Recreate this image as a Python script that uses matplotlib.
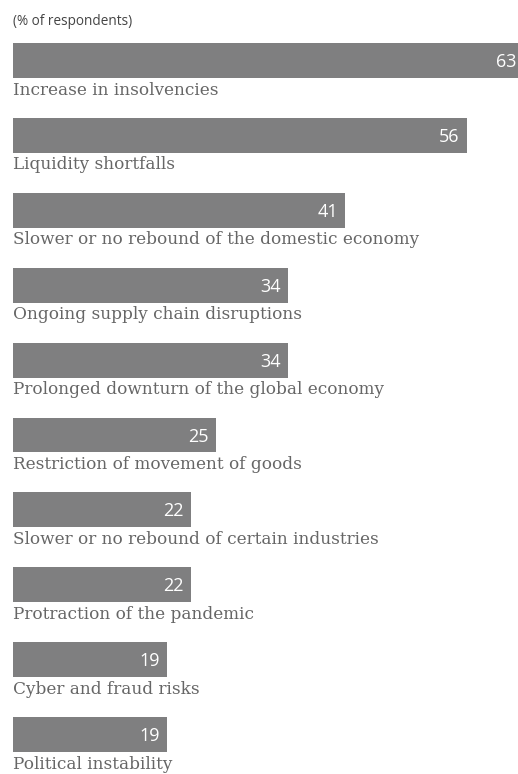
import matplotlib
matplotlib.use("Agg")
import matplotlib.pyplot as plt

risks = [
    "Increase in insolvencies",
    "Liquidity shortfalls",
    "Slower or no rebound of the domestic economy",
    "Ongoing supply chain disruptions",
    "Prolonged downturn of the global economy",
    "Restriction of movement of goods",
    "Slower or no rebound of certain industries",
    "Protraction of the pandemic",
    "Cyber and fraud risks",
    "Political instability",
]
shares = [63, 56, 41, 34, 34, 25, 22, 22, 19, 19]

BAR_COLOR = "#7f7f80"
TEXT_COLOR = "#666666"

fig = plt.figure(figsize=(5.18, 7.74), dpi=100)
# axes spans the whole height; x scale ~8.1 px per percentage point
ax = fig.add_axes([13 / 518, 0, 505 / 518, 1])
ax.set_xlim(0, 505 / 8.1)
ax.set_ylim(9.526, -0.808)
ax.axis("off")

pos = list(range(len(risks)))
ax.barh(pos, shares, height=0.467, color=BAR_COLOR, clip_on=True)

for i, (name, val) in enumerate(zip(risks, shares)):
    ax.text(val - 0.9, i + 0.087, str(val), color="white", ha="right",
            va="baseline", fontsize=13, family="Open Sans")
    ax.text(0, i + 0.455, name, color=TEXT_COLOR, ha="left", va="baseline",
            fontsize=12.2, family="DejaVu Serif")

fig.text(13 / 518, 1 - 25 / 774, "(% of respondents)", color="#444444",
         fontsize=9.8, family="Open Sans", ha="left", va="baseline")

fig.savefig("out.png", dpi=100)
